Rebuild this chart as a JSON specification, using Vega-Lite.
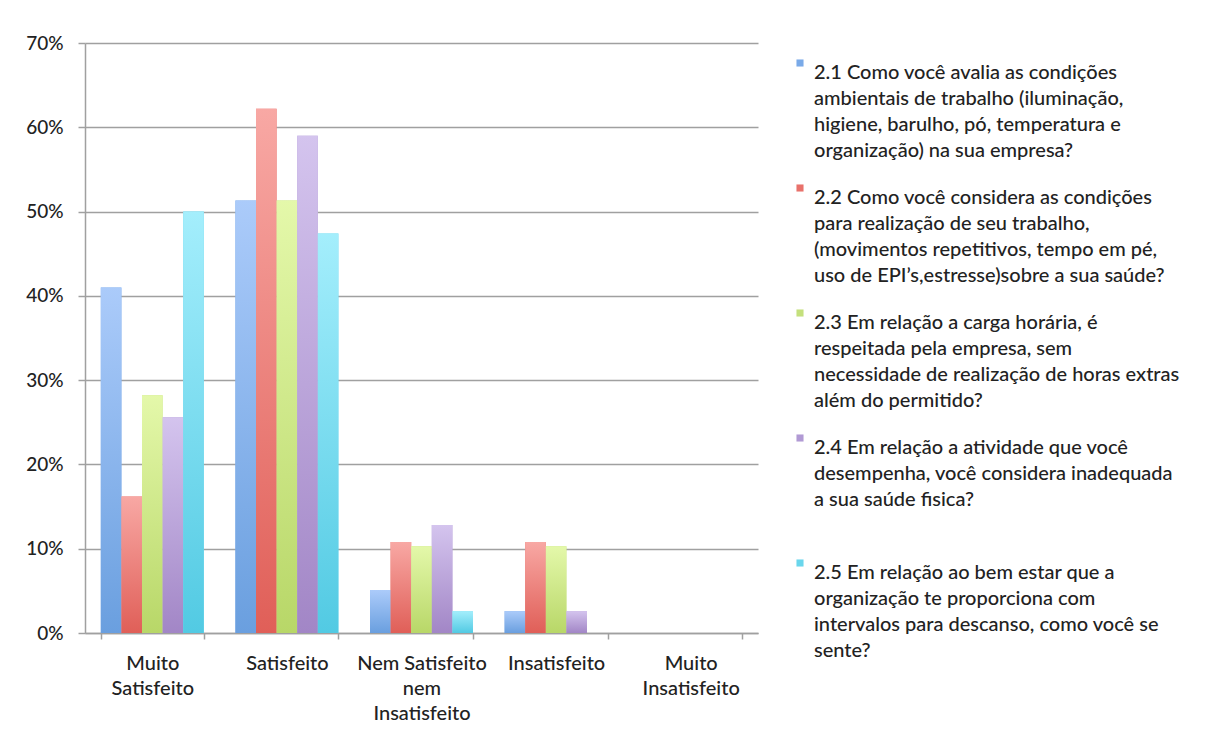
{
  "$schema": "https://vega.github.io/schema/vega-lite/v6.json",
  "width": 673,
  "height": 590,
  "autosize": {"type": "none"},
  "padding": {"left": 85, "top": 43, "right": 447, "bottom": 103},
  "background": "white",
  "data": {
    "values": [
      {"categoria": "Muito Satisfeito", "questao": "2.1 Como você avalia as condições ambientais de trabalho (iluminação, higiene, barulho, pó, temperatura e organização) na sua empresa?", "percentual": 0.410},
      {"categoria": "Satisfeito", "questao": "2.1 Como você avalia as condições ambientais de trabalho (iluminação, higiene, barulho, pó, temperatura e organização) na sua empresa?", "percentual": 0.513},
      {"categoria": "Nem Satisfeito nem Insatisfeito", "questao": "2.1 Como você avalia as condições ambientais de trabalho (iluminação, higiene, barulho, pó, temperatura e organização) na sua empresa?", "percentual": 0.051},
      {"categoria": "Insatisfeito", "questao": "2.1 Como você avalia as condições ambientais de trabalho (iluminação, higiene, barulho, pó, temperatura e organização) na sua empresa?", "percentual": 0.026},
      {"categoria": "Muito Insatisfeito", "questao": "2.1 Como você avalia as condições ambientais de trabalho (iluminação, higiene, barulho, pó, temperatura e organização) na sua empresa?", "percentual": 0},
      {"categoria": "Muito Satisfeito", "questao": "2.2 Como você considera as condições para realização de seu trabalho, (movimentos repetitivos, tempo em pé, uso de EPI’s,estresse)sobre a sua saúde?", "percentual": 0.162},
      {"categoria": "Satisfeito", "questao": "2.2 Como você considera as condições para realização de seu trabalho, (movimentos repetitivos, tempo em pé, uso de EPI’s,estresse)sobre a sua saúde?", "percentual": 0.622},
      {"categoria": "Nem Satisfeito nem Insatisfeito", "questao": "2.2 Como você considera as condições para realização de seu trabalho, (movimentos repetitivos, tempo em pé, uso de EPI’s,estresse)sobre a sua saúde?", "percentual": 0.108},
      {"categoria": "Insatisfeito", "questao": "2.2 Como você considera as condições para realização de seu trabalho, (movimentos repetitivos, tempo em pé, uso de EPI’s,estresse)sobre a sua saúde?", "percentual": 0.108},
      {"categoria": "Muito Insatisfeito", "questao": "2.2 Como você considera as condições para realização de seu trabalho, (movimentos repetitivos, tempo em pé, uso de EPI’s,estresse)sobre a sua saúde?", "percentual": 0},
      {"categoria": "Muito Satisfeito", "questao": "2.3 Em relação a carga horária, é respeitada pela empresa, sem necessidade de realização de horas extras além do permitido?", "percentual": 0.282},
      {"categoria": "Satisfeito", "questao": "2.3 Em relação a carga horária, é respeitada pela empresa, sem necessidade de realização de horas extras além do permitido?", "percentual": 0.513},
      {"categoria": "Nem Satisfeito nem Insatisfeito", "questao": "2.3 Em relação a carga horária, é respeitada pela empresa, sem necessidade de realização de horas extras além do permitido?", "percentual": 0.103},
      {"categoria": "Insatisfeito", "questao": "2.3 Em relação a carga horária, é respeitada pela empresa, sem necessidade de realização de horas extras além do permitido?", "percentual": 0.103},
      {"categoria": "Muito Insatisfeito", "questao": "2.3 Em relação a carga horária, é respeitada pela empresa, sem necessidade de realização de horas extras além do permitido?", "percentual": 0},
      {"categoria": "Muito Satisfeito", "questao": "2.4 Em relação a atividade que você desempenha, você considera inadequada a sua saúde fisica?", "percentual": 0.256},
      {"categoria": "Satisfeito", "questao": "2.4 Em relação a atividade que você desempenha, você considera inadequada a sua saúde fisica?", "percentual": 0.590},
      {"categoria": "Nem Satisfeito nem Insatisfeito", "questao": "2.4 Em relação a atividade que você desempenha, você considera inadequada a sua saúde fisica?", "percentual": 0.128},
      {"categoria": "Insatisfeito", "questao": "2.4 Em relação a atividade que você desempenha, você considera inadequada a sua saúde fisica?", "percentual": 0.026},
      {"categoria": "Muito Insatisfeito", "questao": "2.4 Em relação a atividade que você desempenha, você considera inadequada a sua saúde fisica?", "percentual": 0},
      {"categoria": "Muito Satisfeito", "questao": "2.5 Em relação ao bem estar que a organização te proporciona com intervalos para descanso, como você se sente?", "percentual": 0.500},
      {"categoria": "Satisfeito", "questao": "2.5 Em relação ao bem estar que a organização te proporciona com intervalos para descanso, como você se sente?", "percentual": 0.474},
      {"categoria": "Nem Satisfeito nem Insatisfeito", "questao": "2.5 Em relação ao bem estar que a organização te proporciona com intervalos para descanso, como você se sente?", "percentual": 0.026},
      {"categoria": "Insatisfeito", "questao": "2.5 Em relação ao bem estar que a organização te proporciona com intervalos para descanso, como você se sente?", "percentual": 0},
      {"categoria": "Muito Insatisfeito", "questao": "2.5 Em relação ao bem estar que a organização te proporciona com intervalos para descanso, como você se sente?", "percentual": 0}
    ]
  },
  "encoding": {
    "x": {
      "field": "categoria",
      "type": "nominal",
      "sort": ["Muito Satisfeito", "Satisfeito", "Nem Satisfeito nem Insatisfeito", "Insatisfeito", "Muito Insatisfeito"],
      "scale": {"paddingInner": 0.235, "paddingOuter": 0.1175},
      "axis": {
        "title": null,
        "labelAngle": 0,
        "tickBand": "extent",
        "tickSize": 6,
        "labelPadding": 14,
        "labelLineHeight": 25,
        "labelBaseline": "top",
        "labelExpr": "datum.value == null ? '' : datum.value == 'Nem Satisfeito nem Insatisfeito' ? ['Nem Satisfeito', 'nem', 'Insatisfeito'] : split(datum.value, ' ')"
      }
    },
    "xOffset": {
      "field": "questao",
      "type": "nominal",
      "scale": {"paddingInner": 0, "paddingOuter": 0}
    },
    "y": {
      "field": "percentual",
      "type": "quantitative",
      "scale": {"domain": [0, 0.7], "nice": false},
      "axis": {
        "title": null,
        "format": ".0%",
        "values": [0, 0.1, 0.2, 0.3, 0.4, 0.5, 0.6, 0.7],
        "tickSize": 7,
        "labelPadding": 15,
        "labelFontSize": 19
      }
    }
  },
  "layer": [
    {
      "mark": {"type": "bar"},
      "encoding": {
        "color": {
          "field": "questao",
          "type": "nominal",
          "scale": {"range": ["#7aaae8", "#e8716b", "#c4e07c", "#b19ad4", "#6ad6ec"]},
          "legend": {
            "title": null,
            "orient": "none",
            "legendX": 705,
            "legendY": 10,
            "symbolType": "square",
            "symbolSize": 50,
            "symbolStrokeWidth": 0,
            "labelOffset": 4,
            "labelLimit": 0,
            "labelBaseline": "top",
            "rowPadding": 17,
            "labelExpr": "slice(datum.label, 0, 3) == '2.1' ? ['2.1 Como você avalia as condições', 'ambientais de trabalho (iluminação,', 'higiene, barulho, pó, temperatura e', 'organização) na sua empresa?'] : slice(datum.label, 0, 3) == '2.2' ? ['2.2 Como você considera as condições', 'para realização de seu trabalho,', '(movimentos repetitivos, tempo em pé,', 'uso de EPI’s,estresse)sobre a sua saúde?'] : slice(datum.label, 0, 3) == '2.3' ? ['2.3 Em relação a carga horária, é', 'respeitada pela empresa, sem', 'necessidade de realização de horas extras', 'além do permitido?'] : slice(datum.label, 0, 3) == '2.4' ? ['2.4 Em relação a atividade que você', 'desempenha, você considera inadequada', 'a sua saúde fisica?', ' '] : ['2.5 Em relação ao bem estar que a', 'organização te proporciona com', 'intervalos para descanso, como você se', 'sente?']",
            "encode": {"labels": {"update": {"lineHeight": {"value": 26}}}}
          }
        }
      }
    },
    {
      "mark": {"type": "bar"},
      "encoding": {
        "fill": {
          "condition": [
            {"test": "slice(datum.questao, 0, 3) == '2.1'", "value": {"gradient": "linear", "x1": 0, "y1": 0, "x2": 0, "y2": 1, "stops": [{"offset": 0, "color": "#abcbfa"}, {"offset": 1, "color": "#6a9fdf"}]}},
            {"test": "slice(datum.questao, 0, 3) == '2.2'", "value": {"gradient": "linear", "x1": 0, "y1": 0, "x2": 0, "y2": 1, "stops": [{"offset": 0, "color": "#f8a8a4"}, {"offset": 1, "color": "#e05f58"}]}},
            {"test": "slice(datum.questao, 0, 3) == '2.3'", "value": {"gradient": "linear", "x1": 0, "y1": 0, "x2": 0, "y2": 1, "stops": [{"offset": 0, "color": "#e4f8aa"}, {"offset": 1, "color": "#b8d768"}]}},
            {"test": "slice(datum.questao, 0, 3) == '2.4'", "value": {"gradient": "linear", "x1": 0, "y1": 0, "x2": 0, "y2": 1, "stops": [{"offset": 0, "color": "#d4c4ee"}, {"offset": 1, "color": "#a286c6"}]}}
          ],
          "value": {"gradient": "linear", "x1": 0, "y1": 0, "x2": 0, "y2": 1, "stops": [{"offset": 0, "color": "#a4eefc"}, {"offset": 1, "color": "#52cae3"}]}
        }
      }
    }
  ],
  "config": {
    "view": {"stroke": null},
    "font": "Lato",
    "axis": {
      "labelFont": "Lato",
      "labelFontSize": 20,
      "labelFontWeight": 500,
      "labelColor": "#222222",
      "domainColor": "#a0a0a0",
      "domainWidth": 1.5,
      "tickColor": "#a0a0a0",
      "tickWidth": 1.5,
      "gridColor": "#a0a0a0",
      "gridWidth": 1.5
    },
    "axisX": {"grid": false},
    "axisY": {"grid": true},
    "legend": {
      "labelFont": "Lato",
      "labelFontSize": 20,
      "labelFontWeight": 500,
      "labelColor": "#222222",
      "padding": 0
    }
  }
}
